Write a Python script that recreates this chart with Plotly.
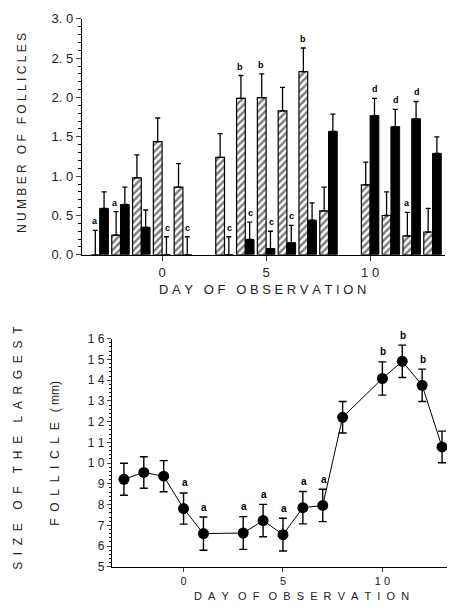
import plotly.graph_objects as go

# ---------------- data: top panel (number of follicles) ----------------
days_top = [-3, -2, -1, 0, 1, 3, 4, 5, 6, 7, 8, 10, 11, 12, 13]
hatched_vals = [0.0, 0.25, 0.98, 1.44, 0.86, 1.24, 1.99, 2.00, 1.83, 2.33, 0.56, 0.89, 0.50, 0.24, 0.29]
hatched_err = [0.31, 0.30, 0.29, 0.30, 0.30, 0.30, 0.29, 0.30, 0.30, 0.30, 0.30, 0.29, 0.30, 0.30, 0.30]
black_vals = [0.59, 0.64, 0.35, 0.0, 0.0, 0.0, 0.195, 0.08, 0.155, 0.44, 1.57, 1.77, 1.63, 1.73, 1.29]
black_err = [0.21, 0.22, 0.22, 0.23, 0.23, 0.23, 0.22, 0.22, 0.22, 0.22, 0.22, 0.22, 0.22, 0.22, 0.21]
hatched_letters = ['a', 'a', '', '', '', '', 'b', 'b', '', 'b', '', '', '', 'a', '']
black_letters = ['', '', '', 'c', 'c', 'c', 'c', 'c', 'c', '', '', 'd', 'd', 'd', '']
top_yticks = [0, 0.5, 1.0, 1.5, 2.0, 2.5, 3.0]
top_yticktext = ['0. 0', '0. 5', '1. 0', '1. 5', '2. 0', '2. 5', '3. 0']

# ---------------- data: bottom panel (size of largest follicle) ----------------
days_bot = [-3, -2, -1, 0, 1, 3, 4, 5, 6, 7, 8, 10, 11, 12, 13]
size_vals = [9.22, 9.55, 9.37, 7.81, 6.60, 6.63, 7.23, 6.55, 7.85, 7.96, 12.21, 14.08, 14.91, 13.75, 10.78]
size_err = [0.77, 0.76, 0.75, 0.75, 0.80, 0.79, 0.78, 0.79, 0.78, 0.78, 0.76, 0.80, 0.78, 0.78, 0.76]
size_letters = ['', '', '', 'a', 'a', 'a', 'a', 'a', 'a', 'a', '', 'b', 'b', 'b', '']
bot_yticks = list(range(5, 17))
bot_yticktext = ['5', '6', '7', '8', '9', '1 0', '1 1', '1 2', '1 3', '1 4', '1 5', '1 6']
x_ticks = [0, 5, 10]
x_ticktext = ['0', '5', '1 0']

title_top_y = "NUMBER OF FOLLICLES"
title_x = "DAY OF OBSERVATION"
title_bot_y1 = "SIZE OF THE LARGEST"
title_bot_y2 = "FOLLICLE (mm)"

# the page body keeps its default 8px margin: the figure is sized to fit inside
OFF = 8
W, H = 455 - 2 * OFF, 614 - 2 * OFF
FONT = "Liberation Sans"
NB = "\u00a0"


def px(x):
    return (x - OFF) / W


def py(y):
    return 1 - (y - OFF) / H


def spaced(s, k=2, m=4):
    words = s.split(" ")
    return (NB * m).join((NB * k).join(list(w)) for w in words)


fig = go.Figure()

fig.add_trace(go.Bar(
    x=days_top, y=hatched_vals, xaxis='x', yaxis='y',
    marker=dict(color='white', line=dict(color='black', width=1.2),
                pattern=dict(shape='/', fgcolor='black', bgcolor='white', size=5, solidity=0.5)),
    error_y=dict(type='data', array=hatched_err, arrayminus=[0] * len(hatched_err), symmetric=False,
                 color='black', thickness=1.3, width=2.5),
    showlegend=False, offsetgroup='h'))
fig.add_trace(go.Bar(
    x=days_top, y=black_vals, xaxis='x', yaxis='y',
    marker=dict(color='black', line=dict(color='black', width=1)),
    error_y=dict(type='data', array=black_err, arrayminus=[0] * len(black_err), symmetric=False,
                 color='black', thickness=1.3, width=2.5),
    showlegend=False, offsetgroup='b'))

fig.add_trace(go.Scatter(
    x=days_bot, y=size_vals, xaxis='x2', yaxis='y2', mode='lines+markers',
    line=dict(color='black', width=1),
    marker=dict(color='black', size=11),
    error_y=dict(type='data', array=size_err, color='black', thickness=1.4, width=4),
    showlegend=False))

annotations = []
for d, v, e, t in zip(days_top, hatched_vals, hatched_err, hatched_letters):
    if t:
        annotations.append(dict(x=d, y=v + e, xref='x', yref='y', text='<b>' + t + '</b>', showarrow=False,
                                xshift=-5, yshift=9, font=dict(family=FONT, size=9, color='black')))
for d, v, e, t in zip(days_top, black_vals, black_err, black_letters):
    if t:
        annotations.append(dict(x=d, y=v + e, xref='x', yref='y', text='<b>' + t + '</b>', showarrow=False,
                                xshift=5, yshift=9, font=dict(family=FONT, size=9, color='black')))
for d, v, e, t in zip(days_bot, size_vals, size_err, size_letters):
    if t:
        annotations.append(dict(x=d, y=v + e, xref='x2', yref='y2', text='<b>' + t + '</b>', showarrow=False,
                                xshift=1, yshift=10, font=dict(family=FONT, size=10, color='black')))

tf = dict(family=FONT, size=12, color='#222')
folw, mm = title_bot_y2.split(" ")
annotations += [
    dict(x=px(22), y=py(129), xref='paper', yref='paper', text=spaced(title_top_y, 1, 3),
         textangle=-90, showarrow=False, xanchor='center', yanchor='middle', font=tf),
    dict(x=px(262), y=py(290), xref='paper', yref='paper', text=spaced(title_x, 1, 3),
         showarrow=False, xanchor='center', yanchor='middle', font=dict(family=FONT, size=13, color='#222')),
    dict(x=px(18), y=py(452), xref='paper', yref='paper', text=spaced(title_bot_y1, 2, 4),
         textangle=-90, showarrow=False, xanchor='center', yanchor='middle', font=tf),
    dict(x=px(55), y=py(458), xref='paper', yref='paper',
         text=spaced(folw, 2) + NB * 3 + mm[0] + NB + mm[1:],
         textangle=-90, showarrow=False, xanchor='center', yanchor='middle', font=tf),
    dict(x=px(301), y=py(604), xref='paper', yref='paper', text=spaced(title_x, 2, 3),
         showarrow=False, xanchor='center', yanchor='middle', font=dict(family=FONT, size=11, color='#222')),
]

fig.update_layout(
    width=W, height=H, margin=dict(l=0, r=0, t=0, b=0),
    paper_bgcolor='white', plot_bgcolor='white',
    barmode='group', bargap=0.16, bargroupgap=0.0,
    annotations=annotations,
    xaxis=dict(domain=[px(82), px(445)], range=[-3.85, 13.6], anchor='y',
               tickvals=x_ticks, ticktext=x_ticktext, ticks='outside', ticklen=5, tickwidth=1.3,
               showline=True, linecolor='black', linewidth=1.3, showgrid=False, zeroline=False,
               tickfont=dict(family=FONT, size=13, color='#222')),
    yaxis=dict(domain=[py(254), py(12)], range=[0, 3.0], anchor='x',
               tickvals=top_yticks, ticktext=top_yticktext, ticks='outside', ticklen=5, tickwidth=1.2,
               minor=dict(dtick=0.1, ticks='outside', ticklen=3, tickcolor='black'),
               showline=True, linecolor='black', linewidth=1.3, showgrid=False, zeroline=False,
               ticklabeloverflow='allow',
               tickfont=dict(family=FONT, size=13, color='#222')),
    xaxis2=dict(domain=[px(112), 1.0], range=[-3.6, 13.25], anchor='y2',
                tickvals=x_ticks, ticktext=x_ticktext, ticks='outside', ticklen=4, tickwidth=1.2,
                showline=True, linecolor='black', linewidth=1.3, showgrid=False, zeroline=False,
                tickfont=dict(family=FONT, size=11, color='#222')),
    yaxis2=dict(domain=[py(574), py(340)], range=[5, 16], anchor='x2',
                tickvals=bot_yticks, ticktext=bot_yticktext, ticks='outside', ticklen=4, tickwidth=1.2,
                minor=dict(dtick=0.2, ticks='outside', ticklen=2, tickcolor='black'),
                showline=True, linecolor='black', linewidth=1.3, showgrid=False, zeroline=False,
                tickfont=dict(family=FONT, size=12, color='#222')),
)

fig.write_html("out.html")
